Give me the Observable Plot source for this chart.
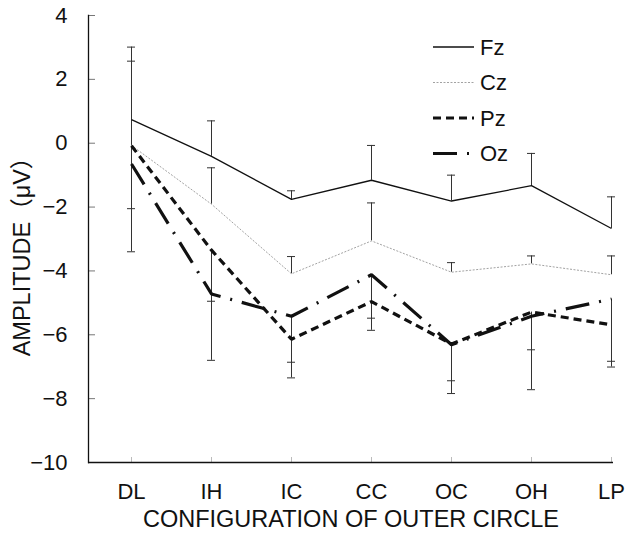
<!DOCTYPE html>
<html>
<head>
<meta charset="utf-8">
<script src="https://cdn.jsdelivr.net/npm/d3@7"></script>
<script src="https://cdn.jsdelivr.net/npm/@observablehq/plot@0.6"></script>
<style>
  html, body { margin: 0; padding: 0; background: #fff; }
  #wrap { position: relative; width: 627px; height: 533px; }
  #legend { position: absolute; left: 0; top: 0; pointer-events: none; }
</style>
</head>
<body>
<div id="wrap"></div>
<script>
// ---- data ----
const categories = ["DL", "IH", "IC", "CC", "OC", "OH", "LP"];
const seriesNames = ["Fz", "Cz", "Pz", "Oz"];
const Fz = [0.74, -0.41, -1.76, -1.16, -1.81, -1.33, -2.67];
const Cz = [-0.07, -1.91, -4.09, -3.06, -4.04, -3.78, -4.12];
const Pz = [-0.08, -3.35, -6.14, -4.96, -6.29, -5.29, -5.69];
const Oz = [-0.65, -4.72, -5.42, -4.12, -6.31, -5.42, -4.88];
// error bar end values (Fz, Cz upward; Pz, Oz downward)
const FzErrEnd = [3.01, 0.70, -1.49, -0.07, -1.00, -0.32, -1.68];
const CzErrEnd = [2.57, -0.77, -3.55, -1.87, -3.74, -3.53, -3.53];
const PzErrEnd = [-2.05, -4.95, -7.35, -5.86, -7.84, -6.47, -7.01];
const OzErrEnd = [-3.40, -6.80, -6.86, -5.48, -7.44, -7.72, -6.83];
const yTicks = [-10, -8, -6, -4, -2, 0, 2, 4];
const xTitle = "CONFIGURATION OF OUTER CIRCLE";
const yTitle = "AMPLITUDE（μV）";

const values = {Fz, Cz, Pz, Oz};
const ends = {Fz: FzErrEnd, Cz: CzErrEnd, Pz: PzErrEnd, Oz: OzErrEnd};
const rows = seriesNames.flatMap(s => categories.map((c, i) => ({series: s, cat: c, value: values[s][i], end: ends[s][i]})));

const styles = {
  Fz: {stroke: "#111", strokeWidth: 1.3, dash: null},
  Cz: {stroke: "#8a8a8a", strokeWidth: 0.8, dash: "2,1.5"},
  Pz: {stroke: "#111", strokeWidth: 3.2, dash: "8,5"},
  Oz: {stroke: "#111", strokeWidth: 3.2, dash: "24,10,2,10"}
};

const W = 627, H = 533;
const fontFam = '"Liberation Sans", Arial, "Noto Sans CJK JP", sans-serif';

const minusFmt = d => d < 0 ? "\u2212" + Math.abs(d) : String(d);

const plot = Plot.plot({
  width: W,
  height: H,
  marginLeft: 88,
  marginRight: 14,
  marginTop: 15,
  marginBottom: 71,
  style: {fontFamily: fontFam, fontSize: "22px", color: "#111", background: "#fff"},
  x: {type: "point", domain: categories, range: [128, 613], padding: 0},
  y: {domain: [-10, 4], ticks: yTicks},
  marks: [
    Plot.axisY(yTicks, {tickSize: 7, dx: 7, tickPadding: 21, tickFormat: minusFmt, stroke: "#777", label: null, fontSize: 22}),
    Plot.axisX({tickSize: 5, dy: -5, tickPadding: 21, stroke: "#bbb", label: null, fontSize: 22}),
    Plot.ruleY([-10], {stroke: "#111", strokeWidth: 1.3}),
    Plot.frame({anchor: "left", stroke: "#111", strokeWidth: 1.3}),
    // error bars
    Plot.ruleX(rows, {x: "cat", y1: "value", y2: "end", stroke: "#333", strokeWidth: 1}),
    Plot.ruleY(rows, {y: "end", x1: "cat", x2: "cat", insetLeft: -4, insetRight: -4, stroke: "#333", strokeWidth: 1}),
    // lines
    ...seriesNames.map(s => Plot.line(rows.filter(r => r.series === s), {
      x: "cat", y: "value",
      stroke: styles[s].stroke, strokeWidth: styles[s].strokeWidth,
      strokeDasharray: styles[s].dash, strokeLinecap: "butt", strokeLinejoin: "miter"
    })),
    // axis titles
    Plot.text([xTitle], {text: d => d, frameAnchor: "bottom", dy: 64, lineAnchor: "bottom", textAnchor: "middle", fontSize: 23.5, fill: "#111"}),
    Plot.text([yTitle], {text: d => d, frameAnchor: "left", dx: -66, dy: 12, rotate: -90, textAnchor: "middle", fontSize: 23.5, fill: "#111"})
  ]
});

const wrap = document.getElementById("wrap");
wrap.appendChild(plot);

// legend overlay
const leg = d3.select(wrap).append("svg")
  .attr("id", "legend").attr("width", W).attr("height", H);
const legX0 = 433, legX1 = 474, legY0 = 47, legStep = 35.5;
seriesNames.forEach((s, i) => {
  const y = legY0 + i * legStep;
  leg.append("line")
    .attr("x1", legX0).attr("x2", legX1).attr("y1", y).attr("y2", y)
    .attr("stroke", styles[s].stroke).attr("stroke-width", styles[s].strokeWidth)
    .attr("stroke-dasharray", styles[s].dash).attr("stroke-linecap", "butt");
  leg.append("text")
    .attr("x", legX1 + 6).attr("y", y).attr("dy", "0.36em")
    .attr("font-family", fontFam).attr("font-size", 22).attr("fill", "#111")
    .text(s);
});
</script>
</body>
</html>
